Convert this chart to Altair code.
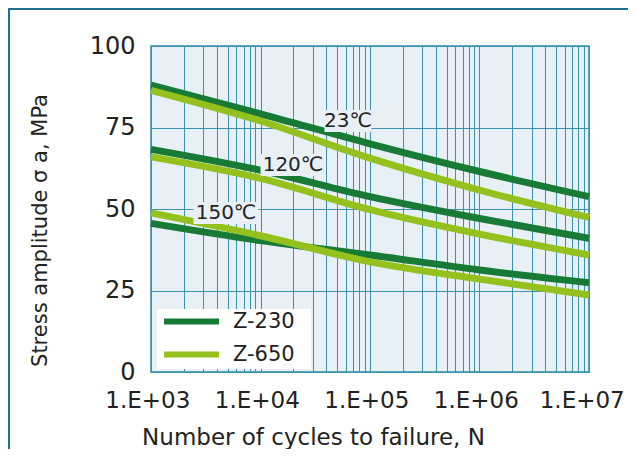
import altair as alt
import pandas as pd

# ---- data ----
cycles = [1e3, 1e4, 1e5, 1e6, 1e7]
grades = ["Z-230", "Z-650"]
temps = ["23℃", "120℃", "150℃"]

z230_23 = [88.0, 79.2, 70.0, 61.5, 53.8]
z650_23 = [86.4, 77.0, 65.6, 55.8, 47.4]
z230_120 = [68.3, 61.9, 53.8, 47.1, 41.0]
z650_120 = [66.0, 59.4, 49.8, 42.3, 35.9]
z230_150 = [45.6, 40.3, 35.9, 31.3, 27.4]
z650_150 = [48.8, 41.8, 33.8, 28.5, 23.6]

label_text = ["23℃", "120℃", "150℃"]
label_x = [63000, 19800, 4840]
label_y = [77.0, 63.5, 48.8]

x_ticks = [m * 10 ** e for e in range(3, 7) for m in range(1, 10)] + [10 ** 7]
x_major = [10 ** 3, 10 ** 4, 10 ** 5, 10 ** 6, 10 ** 7]
y_ticks = [0, 25, 50, 75, 100]

# ---- build table ----
series = {
    ("Z-230", "23℃"): z230_23,
    ("Z-650", "23℃"): z650_23,
    ("Z-230", "120℃"): z230_120,
    ("Z-650", "120℃"): z650_120,
    ("Z-230", "150℃"): z230_150,
    ("Z-650", "150℃"): z650_150,
}
rows = []
for (g, t), vals in series.items():
    for n, v in zip(cycles, vals):
        rows.append({"N": n, "stress": v, "grade": g, "temp": t})
df = pd.DataFrame(rows)
labels = pd.DataFrame({"text": label_text, "N": label_x, "stress": label_y})

DARK = "#177b36"
LIGHT = "#95c11f"
BG = "#e8f0f5"
GRID = "#3a93b0"
FONT = "DejaVu Sans"

major_list = "[" + ",".join(str(v) for v in x_major) + "]"
NB = "\u00a0"
ZW = "\u200b"

x_enc = alt.X(
    "N:Q",
    scale=alt.Scale(type="log", domain=[1e3, 1e7], nice=False),
    axis=alt.Axis(
        values=x_ticks,
        labelExpr=(
            f"indexof({major_list}, datum.value) >= 0 ? "
            f"'1.E+0' + round(log(datum.value)/LN10) + (datum.value >= 10000000 ? '{NB}{NB}{ZW}' : '{NB}{ZW}') : ''"
        ),
        ticks=False, domain=False, grid=True, gridColor=GRID, gridWidth=1,
        labelFont=FONT, labelFontSize=23, labelColor="#222222", labelPadding=17,
        labelFlush=False, labelOverlap=False,
        title="Number of cycles to failure, N", titleFont=FONT, titleFontSize=23,
        titleFontWeight="normal", titleColor="#222222",
        titleX=162, titleY=65, titleAlign="center", titleBaseline="middle",
    ),
)
y_enc = alt.Y(
    "stress:Q",
    scale=alt.Scale(domain=[0, 100], nice=False),
    axis=alt.Axis(
        values=y_ticks, ticks=False, domain=False, grid=True, gridColor=GRID, gridWidth=1,
        labelFont=FONT, labelFontSize=24, labelColor="#222222", labelPadding=16,
        title="Stress amplitude σ a, MPa", titleFont=FONT, titleFontSize=21,
        titleFontWeight="normal", titleColor="#222222",
        titleX=-111, titleY=184, titleAlign="center", titleBaseline="middle", titleAngle=-90,
    ),
)
color_enc = alt.Color(
    "grade:N",
    scale=alt.Scale(domain=grades, range=[DARK, LIGHT]),
    legend=alt.Legend(
        title=None, orient="none", legendX=6, legendY=263,
        fillColor="white", padding=2, rowPadding=8,
        symbolType="M-1,0L9,0", symbolSize=121, symbolStrokeWidth=6,
        labelFont=FONT, labelFontSize=21, labelColor="#222222", labelOffset=53,
        labelExpr=f"datum.label + '{NB}{NB}{ZW}'",
    ),
)

base = alt.Chart(df)
line230 = base.transform_filter(alt.datum.grade == "Z-230").mark_line(
    strokeWidth=7, interpolate="monotone"
).encode(x=x_enc, y=y_enc, color=color_enc, detail="temp:N")
line650 = base.transform_filter(alt.datum.grade == "Z-650").mark_line(
    strokeWidth=7, interpolate="monotone"
).encode(x=x_enc, y=y_enc, color=color_enc, detail="temp:N")

box3 = "M-2.14,-1L2.14,-1L2.14,1L-2.14,1Z"
box4 = "M-2.95,-1L2.95,-1L2.95,1L-2.95,1Z"
boxes = alt.Chart(labels).transform_calculate(
    shp=f"length(datum.text) <= 3 ? '{box3}' : '{box4}'"
).mark_point(filled=True, opacity=1, fill=BG, strokeWidth=0, size=121 * 4).encode(
    x="N:Q", y="stress:Q", shape=alt.Shape("shp:N", scale=None)
)
texts = alt.Chart(labels).mark_text(
    font=FONT, fontSize=20, color="#222222", baseline="middle", align="center"
).encode(x="N:Q", y="stress:Q", text="text:N")

frame = alt.Chart(labels).mark_rect(
    fillOpacity=0, stroke="#1b6f8c", strokeWidth=1.5
).encode(x=alt.value(-142), x2=alt.value(700), y=alt.value(-37), y2=alt.value(700))

chart = alt.layer(line230, line650, boxes, texts, frame).properties(
    width=438, height=326,
    padding={"left": 143, "top": 38, "right": 39, "bottom": 77},
    autosize="none",
).configure_view(fill=BG, stroke="#2a8aa8", strokeWidth=1.5)

chart.save("out.html", embed_options={"renderer": "svg", "actions": False})
